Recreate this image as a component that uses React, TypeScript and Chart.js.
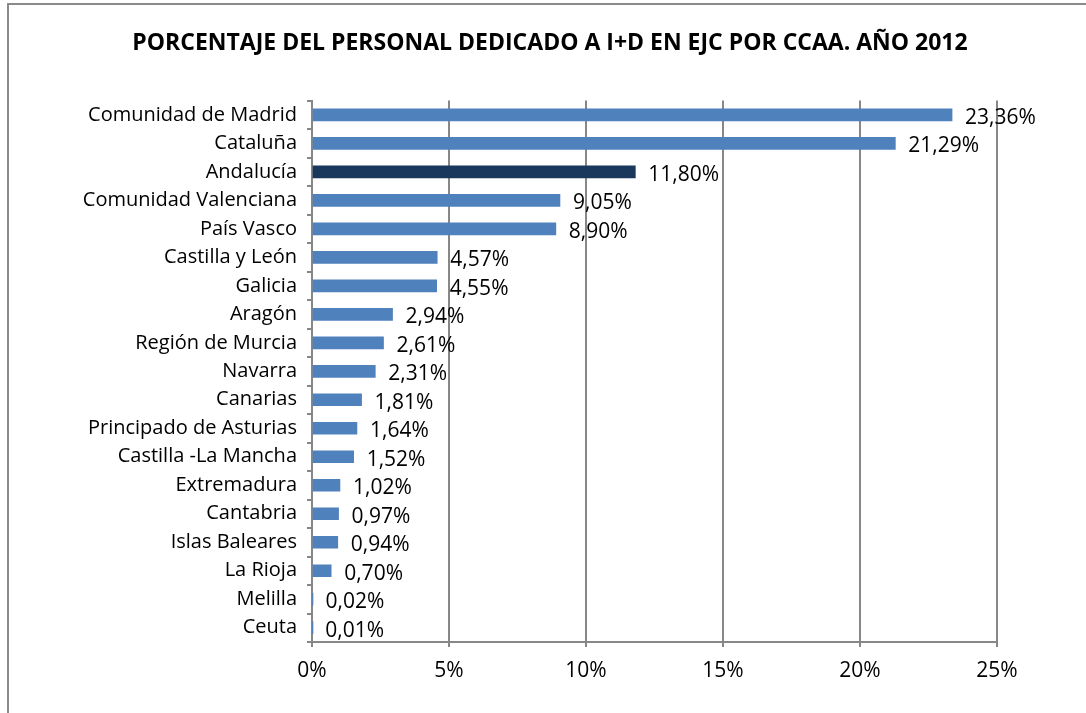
import React, { useEffect, useRef } from "react";
import { Chart, registerables } from "chart.js";

Chart.register(...registerables);

const TITLE = "PORCENTAJE DEL PERSONAL DEDICADO A I+D EN EJC POR CCAA. AÑO 2012";

const regions: string[] = [
  "Comunidad de Madrid",
  "Cataluña",
  "Andalucía",
  "Comunidad Valenciana",
  "País Vasco",
  "Castilla y León",
  "Galicia",
  "Aragón",
  "Región de Murcia",
  "Navarra",
  "Canarias",
  "Principado de Asturias",
  "Castilla -La Mancha",
  "Extremadura",
  "Cantabria",
  "Islas Baleares",
  "La Rioja",
  "Melilla",
  "Ceuta",
];

const percentages: number[] = [
  23.36, 21.29, 11.8, 9.05, 8.9, 4.57, 4.55, 2.94, 2.61, 2.31, 1.81, 1.64, 1.52,
  1.02, 0.97, 0.94, 0.7, 0.02, 0.01,
];

const highlighted = "Andalucía";

const xMin = 0;
const xMax = 25;
const xStep = 5;

const FONT = "'Open Sans', sans-serif";
const BAR_COLOR = "#4F81BD";
const HIGHLIGHT_COLOR = "#1A375C";
const GRID_COLOR = "#878787";

const fmt = (v: number) => v.toFixed(2).replace(".", ",") + "%";

const dataLabelPlugin = {
  id: "dataLabels",
  afterDatasetsDraw(chart: any) {
    const ctx = chart.ctx;
    const meta = chart.getDatasetMeta(0);
    ctx.save();
    ctx.font = `21px ${FONT}`;
    ctx.fillStyle = "#000";
    ctx.textAlign = "left";
    ctx.textBaseline = "middle";
    meta.data.forEach((bar: any, i: number) => {
      const v = chart.data.datasets[0].data[i] as number;
      ctx.fillText(fmt(v), bar.x + 13, bar.y + 3);
    });
    ctx.restore();
  },
};

export default function App() {
  const ref = useRef<HTMLCanvasElement | null>(null);

  useEffect(() => {
    if (!ref.current) return;
    const chart = new Chart(ref.current, {
      type: "bar",
      data: {
        labels: regions,
        datasets: [
          {
            data: percentages,
            backgroundColor: regions.map((r) =>
              r === highlighted ? HIGHLIGHT_COLOR : BAR_COLOR
            ),
            borderWidth: 0,
            barThickness: 12,
            yAxisID: "y",
            xAxisID: "x",
          },
        ],
      },
      options: {
        indexAxis: "y",
        animation: false,
        responsive: false,
        maintainAspectRatio: false,
        layout: { padding: { left: 14, right: 0, top: 0, bottom: 0 } },
        plugins: {
          legend: { display: false },
          tooltip: { enabled: false },
          title: {
            display: true,
            text: TITLE,
            color: "#000",
            font: { family: FONT, size: 23, weight: "bold" },
            padding: { top: 30, bottom: 43 },
          },
        },
        scales: {
          x: {
            min: xMin,
            max: xMax,
            ticks: {
              stepSize: xStep,
              color: "#000",
              font: { family: FONT, size: 21 },
              padding: 11,
              callback: (v: any) => v + "%",
            },
            grid: {
              color: GRID_COLOR,
              lineWidth: 2,
              drawTicks: true,
              tickLength: 5,
              tickColor: GRID_COLOR,
            },
            border: { color: GRID_COLOR, width: 2 },
            afterFit: (s: any) => {
              s.height = 71;
            },
          },
          y: {
            ticks: {
              color: "#000",
              font: { family: FONT, size: 20 },
              padding: 10,
              autoSkip: false,
            },
            grid: {
              display: true,
              drawOnChartArea: false,
              drawTicks: true,
              tickLength: 5,
              tickColor: GRID_COLOR,
              lineWidth: 2,
              offset: true,
            },
            border: { color: GRID_COLOR, width: 2 },
            afterFit: (s: any) => {
              s.width = 298;
            },
          },
          yRight: {
            type: "category",
            position: "right",
            ticks: { display: false },
            grid: { display: false },
            border: { display: false },
            afterFit: (s: any) => {
              s.width = 89;
            },
          },
        },
      },
      plugins: [dataLabelPlugin],
    } as any);
    return () => chart.destroy();
  }, []);

  return (
    <div
      style={{
        position: "fixed",
        left: 0,
        top: 0,
        width: 1086,
        height: 713,
        background: "#fff",
        overflow: "hidden",
      }}
    >
      <canvas ref={ref} width={1086} height={713} style={{ display: "block" }} />
      <div
        style={{
          position: "absolute",
          left: 7,
          top: 3,
          width: 1100,
          height: 730,
          border: "2px solid #8a8a8a",
          pointerEvents: "none",
        }}
      />
    </div>
  );
}
